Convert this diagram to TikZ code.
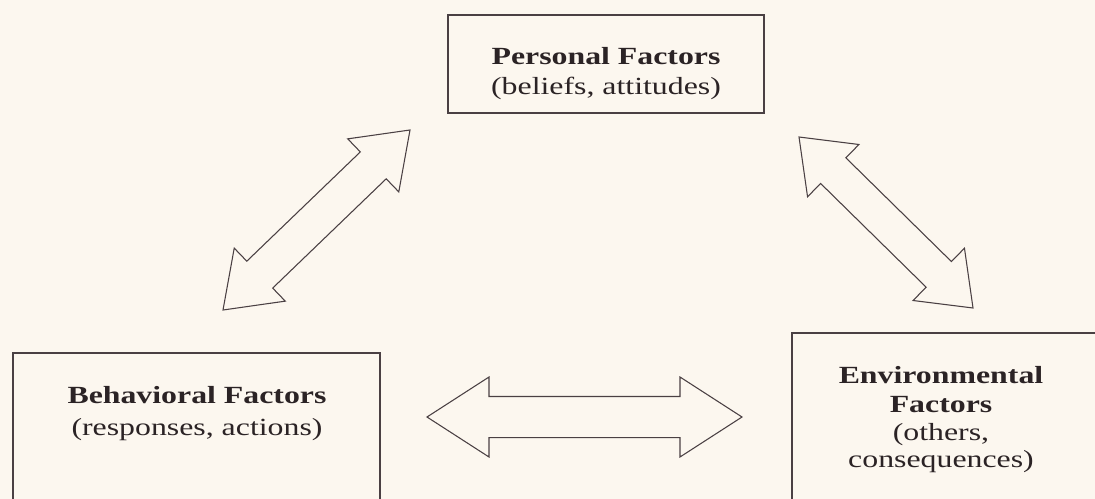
\documentclass[tikz,border=0pt]{standalone}
\usepackage{fontspec}
\setmainfont[FakeStretch=1.29]{Liberation Serif}
\usetikzlibrary{calc}
\definecolor{bg}{HTML}{FCF7EF}
\definecolor{ln}{HTML}{4A4043}
\definecolor{tx}{HTML}{2B2325}
\tikzset{
  box/.style={draw=ln, line width=1.1pt, fill=none, inner sep=0pt},
  blockarrow/.style={draw=ln, line width=0.8pt, line join=miter, fill=none},
  ttl/.style={anchor=base, inner sep=0pt, text=tx, font=\fontsize{18.5}{22}\selectfont\bfseries},
  sub/.style={anchor=base, inner sep=0pt, text=tx, font=\fontsize{18.5}{22}\selectfont},
}
\newcommand\dblarrow[6]{%
  \coordinate (#1-ha) at ($(#2)!#4!(#3)$);
  \coordinate (#1-hb) at ($(#3)!#4!(#2)$);
  \draw[blockarrow] (#2) -- ($(#1-ha)!#5!90:(#3)$) -- ($(#1-ha)!#6!90:(#3)$)
    -- ($(#1-hb)!#6!-90:(#2)$) -- ($(#1-hb)!#5!-90:(#2)$) -- (#3)
    -- ($(#1-hb)!#5!90:(#2)$) -- ($(#1-hb)!#6!90:(#2)$)
    -- ($(#1-ha)!#6!-90:(#3)$) -- ($(#1-ha)!#5!-90:(#3)$) -- cycle;
}
\begin{document}
\begin{tikzpicture}[x=0.75pt,y=-0.75pt]
\useasboundingbox (0,0) rectangle (1095,499);
\fill[bg] (0,0) rectangle (1095,499);
\clip (0,0) rectangle (1095,499);
% boxes
\node[box, minimum width=237pt, minimum height=73.5pt] (personal) at (606,64) {};
\node[box, minimum width=275.25pt, minimum height=132.75pt] (behav) at (196.5,441.5) {};
\node[box, minimum width=238.5pt, minimum height=147.75pt] (env) at (951,431.5) {};
% texts
\node[ttl] (p1) at (606,65) {Personal Factors};
\node[sub] (p2) at (606,94.5) {(beliefs, attitudes)};
\node[ttl] (b1) at (197,403) {Behavioral Factors};
\node[sub] (b2) at (197,435) {(responses, actions)};
\node[ttl] (e1) at (941,383) {Environmental};
\node[ttl] (e2) at (941,412) {Factors};
\node[sub] (e3) at (941,440) {(others,};
\node[sub] (e4) at (941,467) {consequences)};
% arrow end points
\coordinate (lda) at (223,310);
\coordinate (ldb) at (410,130);
\coordinate (rda) at (799,137);
\coordinate (rdb) at (973,308);
\coordinate (ha) at (427,417);
\coordinate (hb) at (742,417);
\dblarrow{ld}{lda}{ldb}{38.25pt}{27.6pt}{14pt}
\dblarrow{rd}{rda}{rdb}{36pt}{27.5pt}{13.5pt}
\dblarrow{hz}{ha}{hb}{46.5pt}{30pt}{15.4pt}
\end{tikzpicture}
\end{document}
